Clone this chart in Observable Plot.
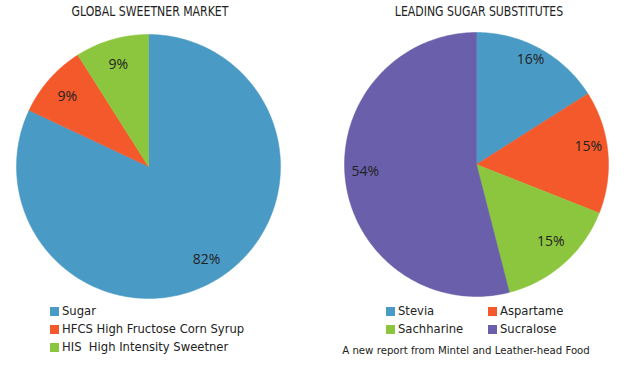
<!DOCTYPE html>
<html>
<head>
<meta charset="utf-8">
<script src="https://cdn.jsdelivr.net/npm/d3@7"></script>
<script src="https://cdn.jsdelivr.net/npm/@observablehq/plot@0.6"></script>
<style>
  html, body { margin: 0; padding: 0; background: #fff; }
  #wrap { position: relative; width: 624px; height: 365px; overflow: hidden; font-family: "DejaVu Sans", sans-serif; color: #222; }
  .title { position: absolute; top: 3px; font-family: "DejaVu Sans", sans-serif; font-size: 14px; color: #222; transform: translateX(-50%) scaleX(0.78); white-space: nowrap; }
  .leg { position: absolute; font-size: 11.6px; white-space: nowrap; display: flex; align-items: center; }
  .sw { width: 9px; height: 9px; margin-right: 3px; display: inline-block; }
  #caption { position: absolute; top: 345px; left: 466px; transform: translateX(-50%); font-size: 10.2px; white-space: nowrap; color: #222; }
  #chart { position: absolute; left: 0; top: 0; }
</style>
</head>
<body>
<div id="wrap">
  <div class="title" style="left:150px">GLOBAL SWEETNER MARKET</div>
  <div class="title" style="left:479px">LEADING SUGAR SUBSTITUTES</div>
  <div id="chart"></div>
  <div id="legends"></div>
  <div id="caption">A new report from Mintel and Leather-head Food</div>
</div>
<script>
// ---- data ----
const marketCategories = ["Sugar", "HFCS High Fructose Corn Syrup", "HIS  High Intensity Sweetner"];
const marketValues = [82, 9, 9];
const marketColors = ["#4a9ac6", "#f4592b", "#8cc63e"];

const substituteCategories = ["Stevia", "Aspartame", "Sachharine", "Sucralose"];
const substituteValues = [16, 15, 15, 54];
const substituteColors = ["#4a9ac6", "#f4592b", "#8cc63e", "#6a5fab"];

// ---- geometry (layout, not data) ----
const pies = [
  {key: "market", cats: marketCategories, vals: marketValues, cols: marketColors, cx: 148, cy: 166, r: 132, lr: 0.82, dy: 2},
  {key: "subst", cats: substituteCategories, vals: substituteValues, cols: substituteColors, cx: 476, cy: 164, r: 132, lr: 0.85, dy: -7}
];

const slicePts = [];
const labels = [];
for (const p of pies) {
  const total = d3.sum(p.vals);
  let acc = 0;
  p.vals.forEach((v, i) => {
    const a0 = acc / total * 2 * Math.PI;
    acc += v;
    const a1 = acc / total * 2 * Math.PI;
    const id = p.key + ":" + p.cats[i];
    const col = p.cols[i];
    slicePts.push({id, col, x: p.cx, y: p.cy});
    const n = Math.max(2, Math.ceil((a1 - a0) / (Math.PI / 180)));
    for (let k = 0; k <= n; k++) {
      const a = a0 + (a1 - a0) * k / n;
      slicePts.push({id, col, x: p.cx + p.r * Math.sin(a), y: p.cy - p.r * Math.cos(a)});
    }
    slicePts.push({id, col, x: p.cx, y: p.cy});
    const am = (a0 + a1) / 2;
    labels.push({text: v + "%", x: p.cx + p.r * p.lr * Math.sin(am), y: p.cy - p.r * p.lr * Math.cos(am) + p.dy});
  });
}

const chart = Plot.plot({
  width: 624,
  height: 300,
  margin: 0,
  x: {domain: [0, 624], range: [0, 624], axis: null},
  y: {domain: [0, 300], range: [0, 300], axis: null},
  marks: [
    Plot.line(slicePts, {x: "x", y: "y", z: "id", fill: "col", stroke: "col", strokeWidth: 0.5, curve: "linear"}),
    Plot.text(labels, {x: "x", y: "y", text: "text", fontSize: 14, fill: "#222", fontFamily: "Open Sans"})
  ]
});
document.getElementById("chart").appendChild(chart);

// ---- legends (HTML, below the pies) ----
const legends = document.getElementById("legends");
function addLeg(label, color, left, top) {
  const d = document.createElement("div");
  d.className = "leg";
  d.style.left = left + "px";
  d.style.top = top + "px";
  const s = document.createElement("span");
  s.className = "sw";
  s.style.background = color;
  d.appendChild(s);
  const t = document.createElement("span");
  t.textContent = label;
  t.style.whiteSpace = "pre";
  d.appendChild(t);
  legends.appendChild(d);
}
marketCategories.forEach((c, i) => addLeg(c, marketColors[i], 50, 304 + i * 18));
substituteCategories.forEach((c, i) => addLeg(c, substituteColors[i], i % 2 === 0 ? 386 : 488, 304 + Math.floor(i / 2) * 18));
</script>
</body>
</html>
